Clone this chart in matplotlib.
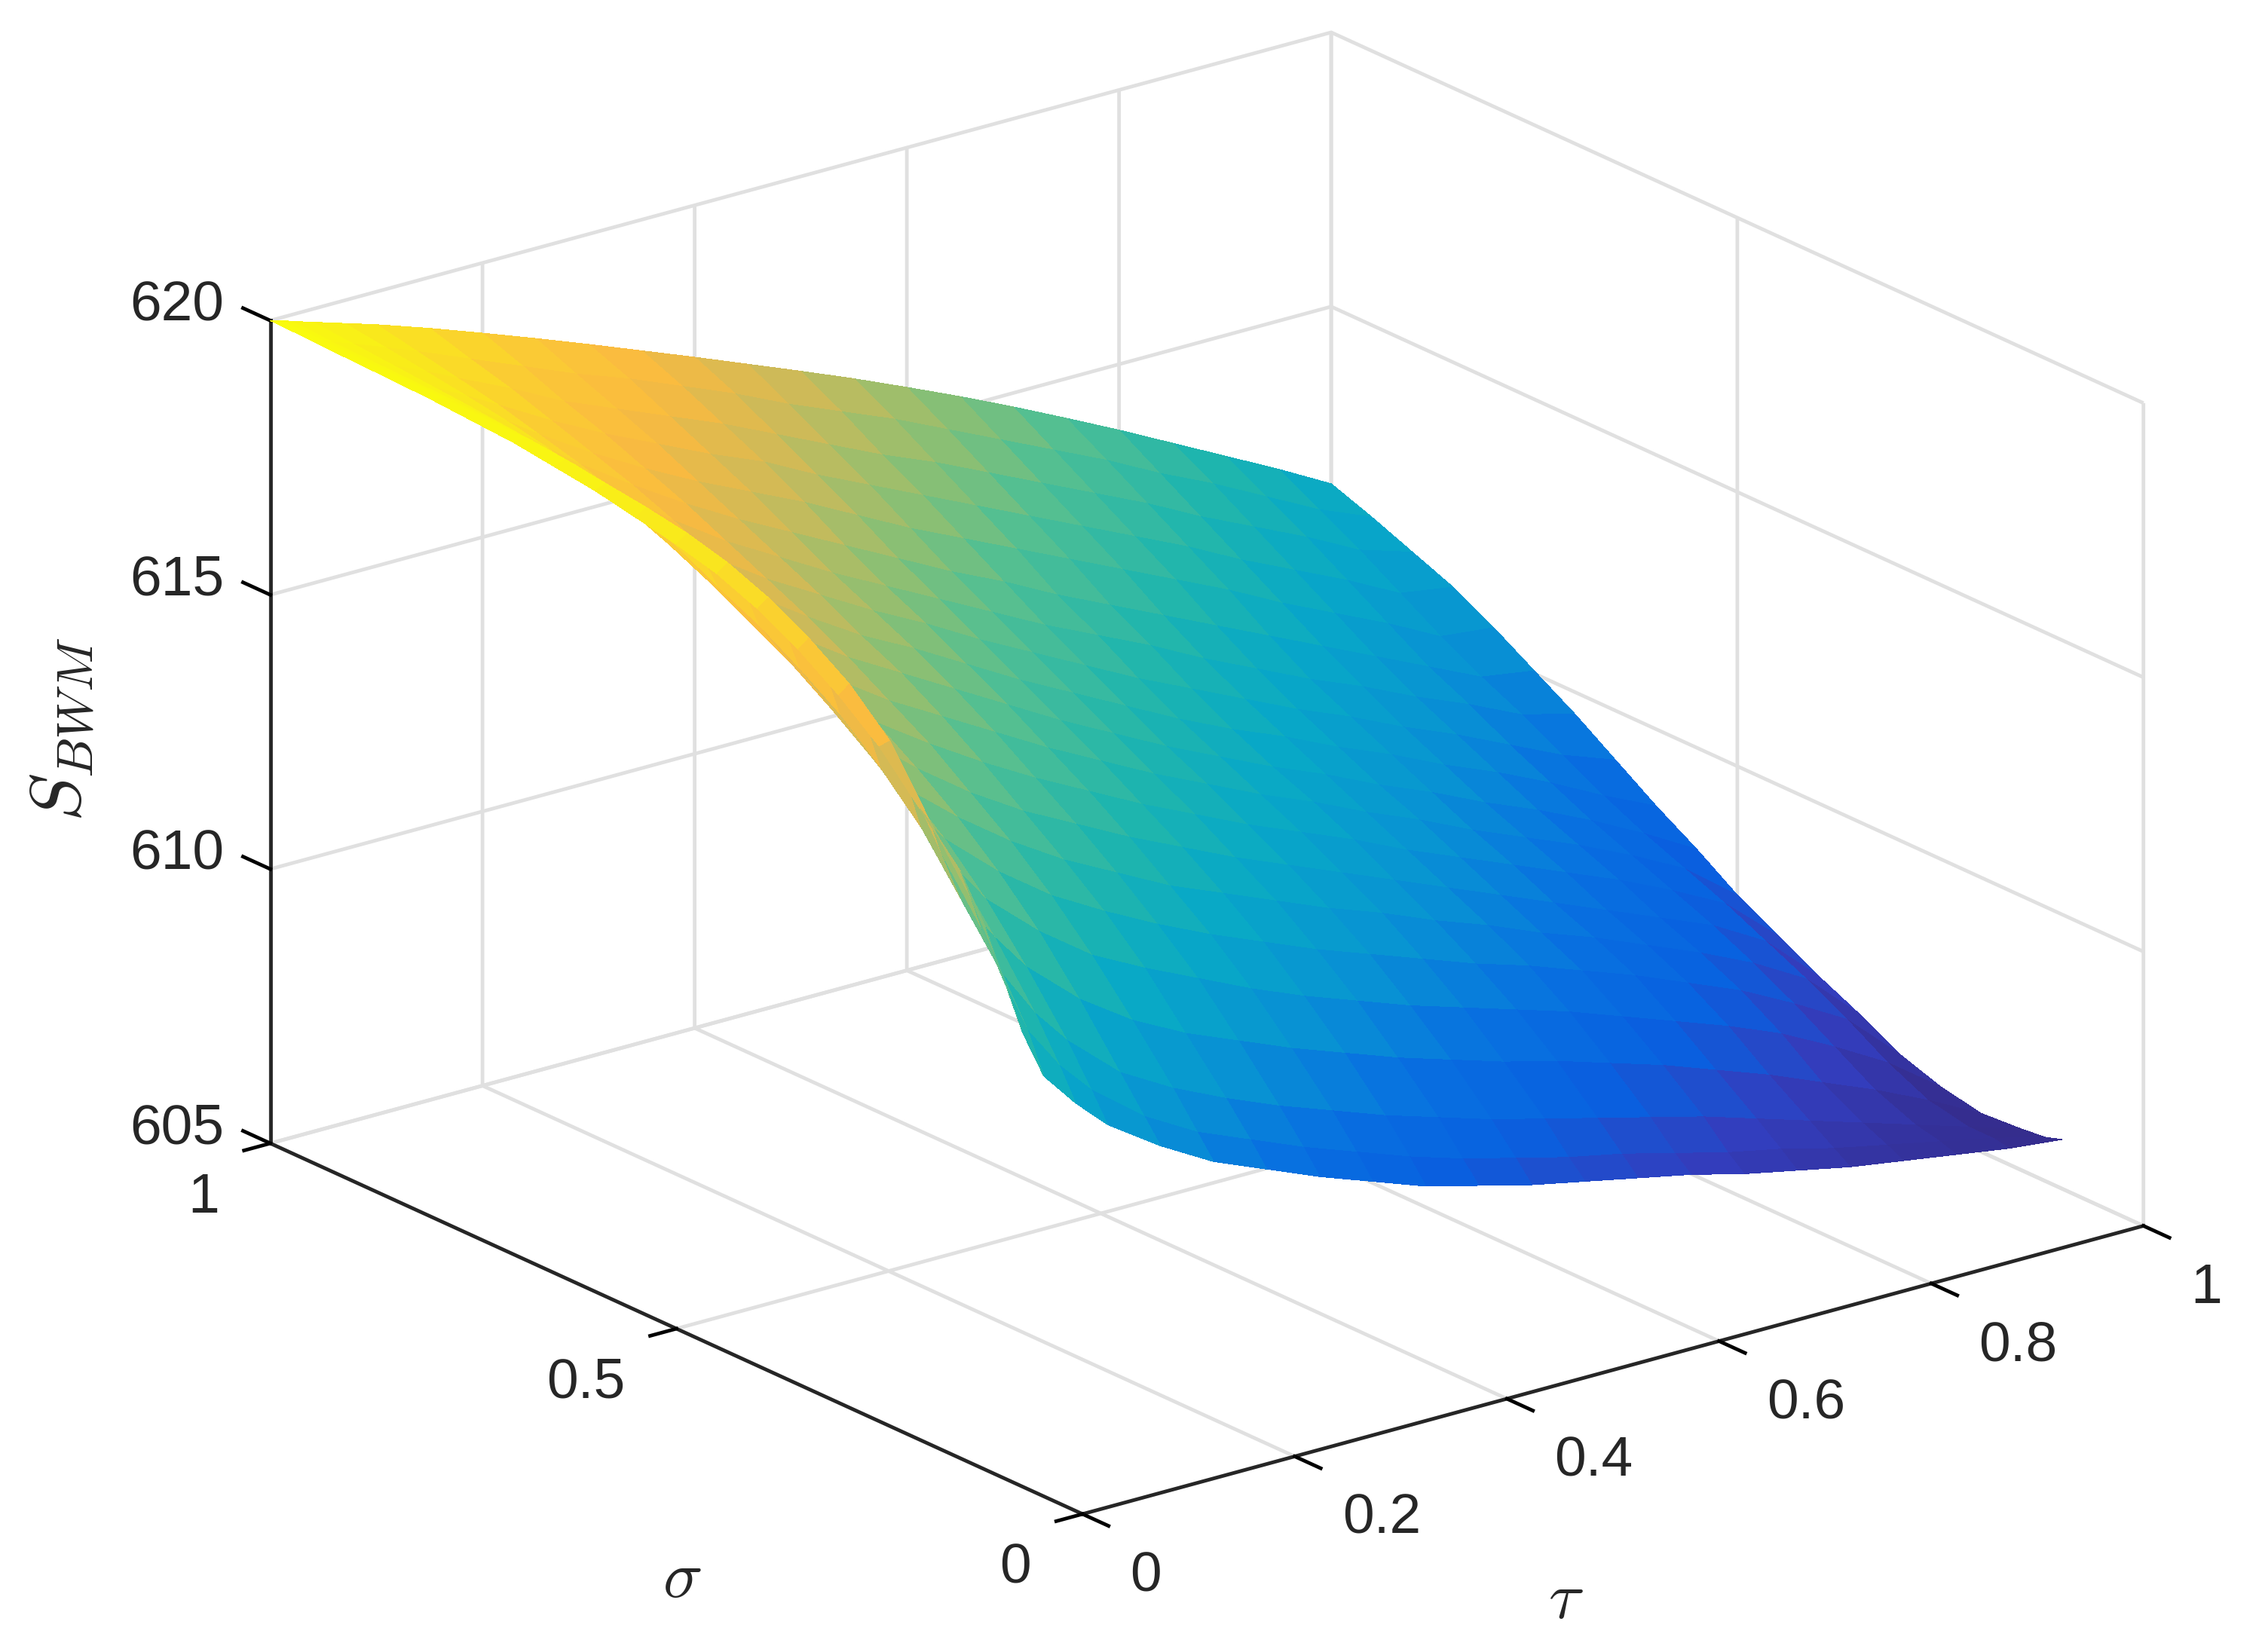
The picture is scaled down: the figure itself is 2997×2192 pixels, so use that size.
#!/usr/bin/env python3

import numpy as np
import matplotlib
matplotlib.use("Agg")
import matplotlib.pyplot as plt
from matplotlib.colors import LinearSegmentedColormap
from matplotlib.transforms import ScaledTranslation
from mpl_toolkits.mplot3d import proj3d

# --- Data ---
sigma = [.1, .12, .15, .2, .25, .3, .35, .4, .45, .5, .55, .6, .65, .7, .75, .8, .85, .9, .95, 1]
tau = [0, .01, .02, .04, .07, .1, .15, .2, .25, .3, .35, .4, .45, .5, .55, .6, .65, .7, .75, .8, .85, .9, .95, 1]

# one row per tau value, one column per sigma value
s_bwm = [
    [614.2, 614.9, 615.7, 616.5, 617.3, 617.9, 618.4, 618.8, 619.1, 619.3, 619.45, 619.6, 619.7, 619.8, 619.85, 619.9, 619.93, 619.95, 619.98, 620.0],
    [613.6, 614.3, 615.15, 616.2, 617.35, 618.05, 618.55, 618.95, 619.25, 619.45, 619.58, 619.68, 619.78, 619.83, 619.86, 619.88, 619.9, 619.91, 619.93, 619.95],
    [613.0, 613.7, 614.55, 615.6, 616.9, 617.65, 618.2, 618.6, 618.95, 619.15, 619.33, 619.5, 619.62, 619.7, 619.75, 619.78, 619.8, 619.82, 619.84, 619.88],
    [612.1, 612.8, 613.6, 614.6, 615.6, 616.35, 617.0, 617.5, 617.95, 618.3, 618.7, 619.0, 619.2, 619.35, 619.45, 619.52, 619.58, 619.64, 619.7, 619.76],
    [611.45, 612.0, 612.75, 613.8, 614.75, 615.45, 616.05, 616.6, 617.1, 617.5, 617.9, 618.25, 618.55, 618.8, 619.0, 619.15, 619.27, 619.38, 619.48, 619.58],
    [610.9, 611.4, 612.1, 613.1, 614.0, 614.75, 615.35, 615.9, 616.4, 616.85, 617.25, 617.65, 618.0, 618.3, 618.55, 618.75, 618.95, 619.1, 619.25, 619.4],
    [610.25, 610.65, 611.25, 612.25, 613.15, 613.9, 614.55, 615.1, 615.6, 616.05, 616.5, 616.9, 617.25, 617.6, 617.9, 618.15, 618.4, 618.65, 618.85, 619.07],
    [609.7, 610.1, 610.7, 611.6, 612.45, 613.2, 613.85, 614.4, 614.95, 615.4, 615.85, 616.25, 616.6, 616.95, 617.3, 617.6, 617.9, 618.15, 618.45, 618.72],
    [609.3, 609.7, 610.25, 611.1, 611.95, 612.65, 613.25, 613.8, 614.35, 614.85, 615.3, 615.65, 616.05, 616.4, 616.75, 617.1, 617.45, 617.75, 618.05, 618.36],
    [608.9, 609.3, 609.85, 610.7, 611.5, 612.15, 612.75, 613.3, 613.8, 614.3, 614.75, 615.15, 615.5, 615.85, 616.25, 616.65, 617.0, 617.35, 617.7, 617.99],
    [608.55, 608.95, 609.5, 610.3, 611.05, 611.7, 612.25, 612.8, 613.3, 613.75, 614.2, 614.6, 615.0, 615.35, 615.75, 616.2, 616.6, 616.95, 617.3, 617.61],
    [608.2, 608.6, 609.15, 609.95, 610.65, 611.3, 611.85, 612.35, 612.8, 613.25, 613.65, 614.05, 614.45, 614.85, 615.25, 615.7, 616.1, 616.5, 616.9, 617.23],
    [607.95, 608.3, 608.85, 609.6, 610.3, 610.9, 611.45, 611.9, 612.35, 612.75, 613.15, 613.55, 613.95, 614.35, 614.75, 615.2, 615.65, 616.05, 616.45, 616.84],
    [607.7, 608.05, 608.55, 609.3, 609.95, 610.55, 611.05, 611.5, 611.9, 612.3, 612.65, 613.05, 613.45, 613.85, 614.3, 614.75, 615.2, 615.6, 616.05, 616.45],
    [607.5, 607.8, 608.3, 609.0, 609.65, 610.2, 610.7, 611.1, 611.5, 611.85, 612.2, 612.55, 612.95, 613.4, 613.8, 614.3, 614.75, 615.2, 615.65, 616.05],
    [607.3, 607.6, 608.05, 608.75, 609.35, 609.85, 610.3, 610.7, 611.1, 611.45, 611.75, 612.1, 612.5, 612.95, 613.35, 613.85, 614.3, 614.75, 615.2, 615.63],
    [607.1, 607.35, 607.8, 608.45, 609.05, 609.55, 609.95, 610.3, 610.65, 611.0, 611.35, 611.7, 612.05, 612.45, 612.9, 613.4, 613.85, 614.3, 614.75, 615.2],
    [606.85, 607.1, 607.55, 608.15, 608.7, 609.2, 609.55, 609.9, 610.25, 610.6, 610.9, 611.25, 611.6, 612.0, 612.45, 612.95, 613.4, 613.85, 614.3, 614.75],
    [606.65, 606.9, 607.25, 607.8, 608.35, 608.85, 609.2, 609.5, 609.85, 610.15, 610.5, 610.85, 611.2, 611.55, 612.0, 612.5, 612.95, 613.4, 613.85, 614.28],
    [606.45, 606.65, 606.95, 607.45, 608.0, 608.45, 608.8, 609.1, 609.45, 609.75, 610.05, 610.4, 610.75, 611.15, 611.55, 612.0, 612.45, 612.9, 613.35, 613.8],
    [606.3, 606.45, 606.65, 607.05, 607.6, 608.05, 608.4, 608.7, 609.05, 609.35, 609.65, 610.0, 610.35, 610.7, 611.1, 611.55, 612.0, 612.45, 612.9, 613.3],
    [606.15, 606.25, 606.35, 606.65, 607.1, 607.55, 607.95, 608.3, 608.6, 608.9, 609.2, 609.55, 609.9, 610.3, 610.65, 611.1, 611.55, 612.0, 612.4, 612.8],
    [606.0, 606.05, 606.05, 606.2, 606.55, 607.0, 607.4, 607.75, 608.1, 608.4, 608.7, 609.05, 609.45, 609.85, 610.2, 610.6, 611.05, 611.5, 611.9, 612.3],
    [605.9, 605.8, 605.75, 605.7, 605.85, 606.1, 606.5, 606.85, 607.25, 607.65, 608.15, 608.6, 609.1, 609.6, 610.05, 610.5, 610.9, 611.2, 611.5, 611.77],
]

tau_ticks = [0, .2, .4, .6, .8, 1]
sigma_ticks = [0, .5, 1]
z_ticks = [605, 610, 615, 620]
tau_labels = ["0", "0.2", "0.4", "0.6", "0.8", "1"]
sigma_labels = ["0", "0.5", "1"]
z_labels = ["605", "610", "615", "620"]

# parula-like colours
parula_colors = [
    (.00, (.208, .166, .529)),
    (.10, (.20, .24, .74)),
    (.18, (.03, .38, .88)),
    (.25, (.03, .44, .88)),
    (.33, (.03, .57, .83)),
    (.42, (.03, .66, .78)),
    (.50, (.12, .71, .68)),
    (.60, (.33, .75, .57)),
    (.67, (.55, .75, .45)),
    (.75, (.80, .73, .35)),
    (.83, (.98, .73, .25)),
    (.90, (.98, .80, .20)),
    (1.0, (.977, .983, .054)),
]
AXIS_COLOR = "#262626"
GRID_COLOR = "#e0e0e0"
TICK_SIZE = 18

plt.rcParams["font.family"] = ["Liberation Sans", "DejaVu Sans"]
plt.rcParams["mathtext.fontset"] = "cm"

FIG_W, FIG_H = 2997, 2192
DPI = 300
fig = plt.figure(figsize=(FIG_W / DPI, FIG_H / DPI), dpi=DPI, facecolor="white")

# Axes square is bigger than the figure on purpose, the cube only fills part of it
side = 2682
ax = fig.add_axes(
    [(1610.5 - 0.517 * side) / FIG_W, (1162 - 0.512 * side) / FIG_H, side / FIG_W, side / FIG_H],
    projection="3d",
    proj_type="ortho",
)
ax.set_box_aspect((1784.6, 1771, 1171))
ax.view_init(elev=20.62, azim=-127.65)

cmap = LinearSegmentedColormap.from_list("parula_like", parula_colors, N=256)
S, T = np.meshgrid(sigma, tau)
Z = np.array(s_bwm)
ax.plot_surface(
    T, S, Z,
    rstride=1, cstride=1,
    cmap=cmap, vmin=Z.min(), vmax=Z.max(),
    linewidth=0, antialiased=False, shade=False,
)

ax.set_xlim(0, 1)
ax.set_ylim(0, 1)
ax.set_zlim(605, 620)
ax.set_xticks(tau_ticks)
ax.set_yticks(sigma_ticks)
ax.set_zticks(z_ticks)
ax.set_xticklabels([])
ax.set_yticklabels([])
ax.set_zticklabels([])

# z ticks should run along the sigma direction, not tau
ax.zaxis._get_tickdir = lambda pos: 1

# (outward, inward) factors; which one points away from the cube depends on the view
tick_factors = {ax.xaxis: (0.0, 0.40), ax.yaxis: (0.0, 0.31), ax.zaxis: (0.42, 0.0)}
for axis, (outward, inward) in tick_factors.items():
    axis.set_pane_color((1, 1, 1, 0))
    axis.pane.set_edgecolor((1, 1, 1, 0))
    axis.line.set_color(AXIS_COLOR)
    axis.line.set_linewidth(1.15)
    info = axis._axinfo
    info["grid"]["color"] = GRID_COLOR
    info["grid"]["linewidth"] = 1.15
    info["tick"]["color"] = AXIS_COLOR
    info["tick"]["linewidth"] = {True: 1.15, False: 1.15}
    info["tick"]["outward_factor"] = outward
    info["tick"]["inward_factor"] = inward


def label_at(x, y, z, text, dx, dy, **kwargs):
    """Real text tied to a point of the cube, moved by some pixels (y going up)."""
    x2, y2, _ = proj3d.proj_transform(x, y, z, ax.get_proj())
    offset = ScaledTranslation(dx / DPI, dy / DPI, fig.dpi_scale_trans)
    return ax.text2D(x2, y2, text, transform=ax.transData + offset, color=AXIS_COLOR, **kwargs)


# tick labels, offsets are pixels from the tick on the axis
for value, text in zip(tau_ticks, tau_labels):
    label_at(value, 0, 605, text, 63, -83, ha="left", va="center", fontsize=TICK_SIZE)
for value, text in zip(sigma_ticks, sigma_labels):
    label_at(0, value, 605, text, -68, -72, ha="right", va="center", fontsize=TICK_SIZE)
for value, text in zip(z_ticks, z_labels):
    label_at(0, 1, value, text, -61, 19, ha="right", va="center", fontsize=TICK_SIZE)

# axis titles
label_at(0.5, 0, 605, r"$\tau$", -63, -307, ha="center", va="center", fontsize=21)
label_at(0, 0.5, 605, r"$\sigma$", 7, -333, ha="center", va="center", fontsize=21)
label_at(0, 1, 612.5, r"$S_{BWM}$", -276, 4, ha="center", va="center", rotation=90, fontsize=23)

fig.savefig("out.png", dpi=DPI, facecolor="white")
plt.close(fig)
